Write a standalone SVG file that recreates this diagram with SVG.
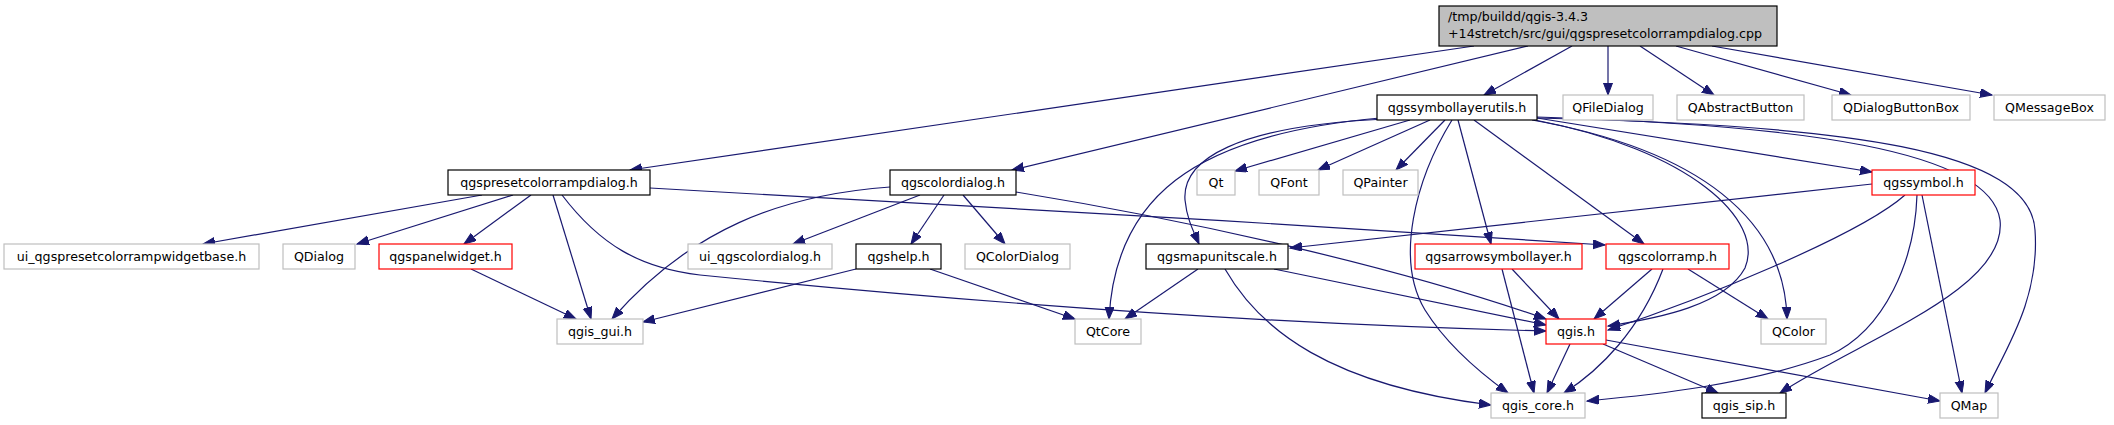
<svg xmlns="http://www.w3.org/2000/svg" width="2114" height="425" viewBox="0 0 2114 425">
<style>
rect{fill:#fff;stroke-width:1.2}
.b{stroke:#000}
.g{stroke:#bfbfbf}
.r{stroke:#ff0000}
.root{fill:#bfbfbf;stroke:#000}
text{font-family:"DejaVu Sans","Liberation Sans",sans-serif;font-size:12.65px;fill:#000;text-anchor:middle}
.l{text-anchor:start}
#edges path{fill:none;stroke:#191970;stroke-width:1.2;marker-end:url(#ah)}
</style>
<defs>
<marker id="ah" markerWidth="14" markerHeight="12" refX="12" refY="4.5" orient="auto" markerUnits="userSpaceOnUse"><path d="M0,0 L12,4.5 L0,9 z" fill="#191970" stroke="#191970" stroke-width="1"/></marker>
</defs>
<rect x="0" y="0" width="2114" height="425" style="fill:#fff;stroke:none"/>
<g id="edges">
<path d="M1474,46 L630,170"/>
<path d="M1528,46 L1012,170"/>
<path d="M1572,46 L1484,95"/>
<path d="M1608,46 L1608,95"/>
<path d="M1640,46 L1714,95"/>
<path d="M1676,46 L1851,95"/>
<path d="M1712,46 L1992,95"/>
<path d="M482,195 L203,244"/>
<path d="M513,195 L357,244"/>
<path d="M531,195 L464,244"/>
<path d="M553,195 L591,319"/>
<path d="M562,195 C600,245 640,268 700,275 C1000,305 1300,325 1546,331"/>
<path d="M650,188 C900,200 1300,225 1605,245"/>
<path d="M890,187 C780,195 690,230 612,319"/>
<path d="M920,195 L793,244"/>
<path d="M944,195 L911,244"/>
<path d="M963,195 L1005,244"/>
<path d="M1016,192 C1200,222 1400,268 1546,319"/>
<path d="M1410,120 L1235,171"/>
<path d="M1430,120 L1318,170"/>
<path d="M1445,120 L1396,170"/>
<path d="M1385,119 C1235,126 1182,160 1185,200 C1187,220 1194,232 1199,244"/>
<path d="M1380,118 C1190,135 1115,200 1109,319"/>
<path d="M1458,120 L1491,244"/>
<path d="M1474,120 L1644,244"/>
<path d="M1452,120 C1415,180 1395,260 1425,310 C1450,350 1490,380 1508,393"/>
<path d="M1537,118 L1872,172"/>
<path d="M1532,120 C1700,150 1785,220 1787,319"/>
<path d="M1535,120 C1690,150 1765,220 1745,268 C1725,305 1660,318 1608,326"/>
<path d="M1537,117 C1800,125 1990,150 2000,220 C2008,290 1860,340 1780,393"/>
<path d="M1537,118 C1850,125 2030,150 2035,230 C2040,300 2005,350 1985,393"/>
<path d="M1872,184 L1290,248"/>
<path d="M1905,195 C1860,235 1700,300 1608,330"/>
<path d="M1917,195 C1915,260 1885,330 1830,355 C1750,385 1650,395 1587,401"/>
<path d="M1922,195 L1962,393"/>
<path d="M471,269 L576,319"/>
<path d="M856,269 L643,322"/>
<path d="M930,269 L1075,319"/>
<path d="M1198,269 L1125,319"/>
<path d="M1274,269 L1546,325"/>
<path d="M1225,269 C1260,330 1330,385 1491,405"/>
<path d="M1512,269 L1559,319"/>
<path d="M1502,269 L1534,393"/>
<path d="M1652,269 L1594,319"/>
<path d="M1663,269 C1640,330 1600,370 1564,393"/>
<path d="M1688,269 L1768,319"/>
<path d="M1570,344 L1547,393"/>
<path d="M1603,344 L1718,393"/>
<path d="M1606,340 L1940,401"/>
</g>
<g id="n_root"><rect class="root" x="1439" y="6" width="338" height="40"/><text class="l" x="1448" y="21">/tmp/buildd/qgis-3.4.3</text><text class="l" x="1448" y="38">+14stretch/src/gui/qgspresetcolorrampdialog.cpp</text></g>
<g id="n_utils"><rect class="b" x="1377" y="95" width="160" height="25"/><text x="1457" y="112">qgssymbollayerutils.h</text></g>
<g id="n_qfiledialog"><rect class="g" x="1563" y="95" width="90" height="25"/><text x="1608" y="112">QFileDialog</text></g>
<g id="n_qabstractbutton"><rect class="g" x="1677" y="95" width="127" height="25"/><text x="1740.5" y="112">QAbstractButton</text></g>
<g id="n_qdialogbuttonbox"><rect class="g" x="1832" y="95" width="138" height="25"/><text x="1901" y="112">QDialogButtonBox</text></g>
<g id="n_qmessagebox"><rect class="g" x="1994" y="95" width="111" height="25"/><text x="2049.5" y="112">QMessageBox</text></g>
<g id="n_preset"><rect class="b" x="448" y="170" width="202" height="25"/><text x="549" y="187">qgspresetcolorrampdialog.h</text></g>
<g id="n_colordialog"><rect class="b" x="890" y="170" width="126" height="25"/><text x="953" y="187">qgscolordialog.h</text></g>
<g id="n_qt"><rect class="g" x="1197" y="170" width="38" height="25"/><text x="1216" y="187">Qt</text></g>
<g id="n_qfont"><rect class="g" x="1259" y="170" width="60" height="25"/><text x="1289" y="187">QFont</text></g>
<g id="n_qpainter"><rect class="g" x="1343" y="170" width="75" height="25"/><text x="1380.5" y="187">QPainter</text></g>
<g id="n_qgssymbol"><rect class="r" x="1872" y="170" width="103" height="25"/><text x="1923.5" y="187">qgssymbol.h</text></g>
<g id="n_uipreset"><rect class="g" x="4" y="244" width="255" height="25"/><text x="131.5" y="261">ui_qgspresetcolorrampwidgetbase.h</text></g>
<g id="n_qdialog"><rect class="g" x="283" y="244" width="72" height="25"/><text x="319" y="261">QDialog</text></g>
<g id="n_panel"><rect class="r" x="379" y="244" width="133" height="25"/><text x="445.5" y="261">qgspanelwidget.h</text></g>
<g id="n_uicolordialog"><rect class="g" x="688" y="244" width="144" height="25"/><text x="760" y="261">ui_qgscolordialog.h</text></g>
<g id="n_qgshelp"><rect class="b" x="856" y="244" width="85" height="25"/><text x="898.5" y="261">qgshelp.h</text></g>
<g id="n_qcolordialog"><rect class="g" x="965" y="244" width="105" height="25"/><text x="1017.5" y="261">QColorDialog</text></g>
<g id="n_mapunitscale"><rect class="b" x="1146" y="244" width="142" height="25"/><text x="1217" y="261">qgsmapunitscale.h</text></g>
<g id="n_arrow"><rect class="r" x="1415" y="244" width="167" height="25"/><text x="1498.5" y="261">qgsarrowsymbollayer.h</text></g>
<g id="n_colorramp"><rect class="r" x="1606" y="244" width="123" height="25"/><text x="1667.5" y="261">qgscolorramp.h</text></g>
<g id="n_qgisgui"><rect class="g" x="557" y="319" width="86" height="25"/><text x="600" y="336">qgis_gui.h</text></g>
<g id="n_qtcore"><rect class="g" x="1075" y="319" width="66" height="25"/><text x="1108" y="336">QtCore</text></g>
<g id="n_qgis"><rect class="r" x="1546" y="319" width="60" height="25"/><text x="1576" y="336">qgis.h</text></g>
<g id="n_qcolor"><rect class="g" x="1761" y="319" width="65" height="25"/><text x="1793.5" y="336">QColor</text></g>
<g id="n_qgiscore"><rect class="g" x="1491" y="393" width="94" height="25"/><text x="1538" y="410">qgis_core.h</text></g>
<g id="n_qgissip"><rect class="b" x="1702" y="393" width="84" height="25"/><text x="1744" y="410">qgis_sip.h</text></g>
<g id="n_qmap"><rect class="g" x="1940" y="393" width="58" height="25"/><text x="1969" y="410">QMap</text></g>
</svg>
